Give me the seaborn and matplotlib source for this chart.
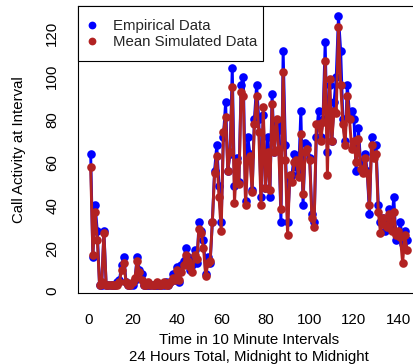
import numpy as np
import pandas as pd
import matplotlib
matplotlib.use("Agg")
import matplotlib.pyplot as plt
from matplotlib.lines import Line2D
from matplotlib.patches import Rectangle
import seaborn as sns

# ---- data ----
interval = list(range(1, 145))
empirical = [64, 16, 40, 28, 3, 3, 28, 3, 3, 3, 3, 3, 4, 5, 12, 16, 4, 3, 3, 3,
             5, 16, 10, 8, 3, 3, 3, 3, 3, 3, 3, 3, 3, 3, 4, 3, 4, 8, 5, 11,
             4, 12, 14, 20, 16, 10, 12, 19, 13, 32, 28, 24, 8, 16, 13, 32, 56, 68, 49, 32,
             72, 88, 56, 64, 104, 49, 62, 51, 96, 100, 42, 72, 64, 47, 80, 96, 80, 44, 82, 48,
             72, 44, 92, 65, 78, 75, 32, 112, 68, 32, 52, 54, 64, 58, 55, 84, 40, 69, 68, 62,
             36, 32, 72, 84, 72, 80, 116, 65, 96, 70, 88, 100, 128, 112, 80, 70, 96, 82, 84, 80,
             56, 76, 60, 58, 64, 56, 36, 72, 64, 68, 40, 32, 34, 28, 32, 38, 30, 44, 24, 26,
             32, 22, 28, 24]
simulated = [58, 17, 37, 24, 3, 4, 27, 3, 3, 3, 3, 3, 3, 4, 10, 13, 4, 3, 3, 4,
             6, 14, 9, 5, 3, 3, 4, 3, 3, 3, 4, 3, 3, 4, 3, 3, 4, 6, 5, 10,
             5, 9, 12, 17, 14, 11, 9, 17, 15, 29, 27, 20, 7, 13, 14, 32, 55, 63, 44, 28,
             74, 81, 56, 65, 95, 41, 60, 50, 93, 91, 40, 61, 63, 46, 78, 91, 74, 40, 86, 48,
             65, 47, 87, 65, 80, 66, 38, 102, 61, 26, 54, 51, 60, 61, 53, 73, 45, 65, 66, 61,
             34, 30, 78, 78, 70, 79, 107, 54, 99, 70, 84, 83, 123, 96, 78, 68, 91, 80, 66, 70,
             60, 71, 57, 55, 62, 55, 40, 68, 62, 64, 37, 27, 34, 31, 30, 36, 28, 37, 26, 28,
             25, 13, 26, 19]
series_names = ["Empirical Data", "Mean Simulated Data"]
series_colors = ["#0000FF", "#B22222"]
x_ticks = [0, 20, 40, 60, 80, 100, 120, 140]
y_ticks = [0, 20, 40, 60, 80, 100, 120]

df = pd.DataFrame({
    "interval": interval * 2,
    "value": empirical + simulated,
    "series": [series_names[0]] * len(interval) + [series_names[1]] * len(interval),
})

FS = 10.8
sns.set_theme(style="white")
plt.rcParams["font.family"] = ["Liberation Sans", "DejaVu Sans"]
plt.rcParams["font.size"] = FS

W, H = 413, 364
AX_L, AX_R, AX_T, AX_B = 78, 419.7, 5.5, 293
aw, ah = AX_R - AX_L, AX_B - AX_T

fig = plt.figure(figsize=(W / 100, H / 100), dpi=100)
ax = fig.add_axes([AX_L / W, (H - AX_B) / H, aw / W, ah / H])

for name, col in zip(series_names, series_colors):
    sub = df[df["series"] == name]
    sns.lineplot(data=sub, x="interval", y="value", ax=ax, color=col,
                 linewidth=2.1, marker="o", markersize=6.2, markeredgewidth=0,
                 markeredgecolor=col, legend=False)

ax.set_xlim(1 - 0.04 * 143, 144 + 0.04 * 143)
ax.set_ylim(-0.93, 133.1)
ax.set_xticks(x_ticks)
ax.set_yticks(y_ticks)
ax.tick_params(axis="both", direction="out", length=6.5, width=0.8, color="black",
               labelsize=FS, labelcolor="black")
ax.tick_params(axis="x", pad=8)
ax.tick_params(axis="y", pad=7)
for lab in ax.get_yticklabels():
    lab.set_rotation(90)
    lab.set_va("center")
for sp in ax.spines.values():
    sp.set_color("black")
    sp.set_linewidth(0.8)

ax.set_xlabel("Time in 10 Minute Intervals\n24 Hours Total, Midnight to Midnight",
              fontsize=FS, linespacing=1.3, color="black")
ax.xaxis.set_label_coords(0.5, -40 / ah)
ax.xaxis.label.set_va("top")
ax.set_ylabel("Call Activity at Interval", fontsize=FS, color="black")
ax.yaxis.set_label_coords(-59 / aw, 0.5)
ax.yaxis.label.set_va("center")

handles = [Line2D([], [], linestyle="none", marker="o", markersize=5.6,
                  markerfacecolor=c, markeredgewidth=0, color=c) for c in series_colors]
leg = ax.legend(handles, series_names, loc="upper left",
                bbox_to_anchor=((87.95 - AX_L) / aw, (AX_B - 19.0) / ah),
                borderaxespad=0, borderpad=0, frameon=False,
                handlelength=0.5, handletextpad=1.19, labelspacing=0.16,
                fontsize=FS)
ax.add_patch(Rectangle((0, (AX_B - 61) / ah), (263 - AX_L) / aw, (61 - AX_T) / ah,
                       transform=ax.transAxes, facecolor="white", edgecolor="black",
                       linewidth=0.8, zorder=4.5, clip_on=False))
leg.set_zorder(5)

fig.savefig("out.png", dpi=100)
